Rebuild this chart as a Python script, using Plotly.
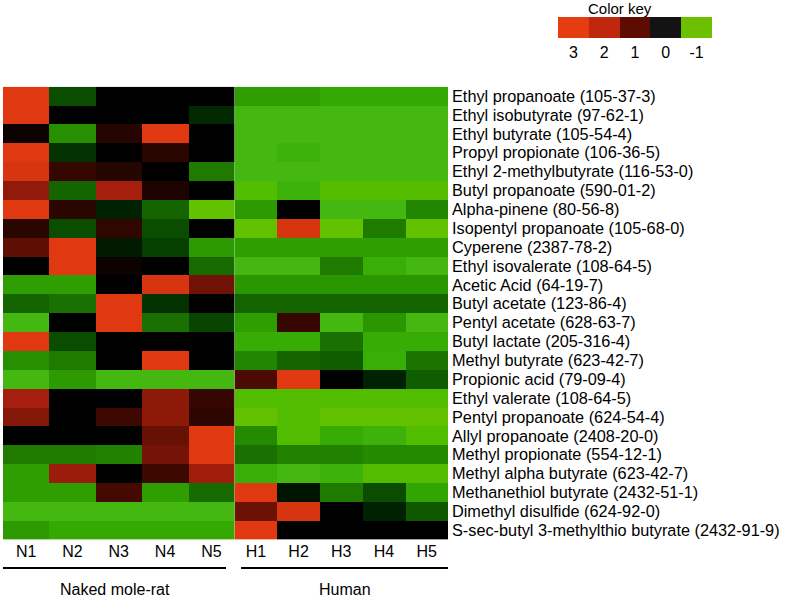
import plotly.graph_objects as go

compounds = [
    "Ethyl propanoate (105-37-3)",
    "Ethyl isobutyrate (97-62-1)",
    "Ethyl butyrate (105-54-4)",
    "Propyl propionate (106-36-5)",
    "Ethyl 2-methylbutyrate (116-53-0)",
    "Butyl propanoate (590-01-2)",
    "Alpha-pinene (80-56-8)",
    "Isopentyl propanoate (105-68-0)",
    "Cyperene (2387-78-2)",
    "Ethyl isovalerate (108-64-5)",
    "Acetic Acid (64-19-7)",
    "Butyl acetate (123-86-4)",
    "Pentyl acetate (628-63-7)",
    "Butyl lactate (205-316-4)",
    "Methyl butyrate (623-42-7)",
    "Propionic acid (79-09-4)",
    "Ethyl valerate (108-64-5)",
    "Pentyl propanoate (624-54-4)",
    "Allyl propanoate (2408-20-0)",
    "Methyl propionate (554-12-1)",
    "Methyl alpha butyrate (623-42-7)",
    "Methanethiol butyrate (2432-51-1)",
    "Dimethyl disulfide (624-92-0)",
    "S-sec-butyl 3-methylthio butyrate (2432-91-9)",
]

naked_samples = ["N1", "N2", "N3", "N4", "N5"]
human_samples = ["H1", "H2", "H3", "H4", "H5"]

# estimated scaled abundance per compound, naked mole-rat N1..N5
naked_values = [
    [3.0, -0.25, 0.0, 0.0, 0.0],
    [3.0, 0.0, 0.0, 0.0, -0.12],
    [0.1, -0.55, 0.3, 3.0, 0.0],
    [3.0, -0.15, 0.0, 0.35, 0.0],
    [2.8, 0.45, 0.3, 0.0, -0.45],
    [1.5, -0.35, 1.8, 0.25, 0.0],
    [3.0, 0.35, -0.1, -0.35, -1.0],
    [0.35, -0.25, 0.4, -0.25, 0.0],
    [0.95, 3.0, -0.08, -0.2, -0.6],
    [0.0, 3.0, 0.1, 0.0, -0.38],
    [-0.62, -0.62, 0.0, 2.8, 1.15],
    [-0.35, -0.4, 3.0, -0.15, 0.0],
    [-0.8, 0.0, 3.0, -0.4, -0.22],
    [3.0, -0.25, 0.0, 0.0, 0.0],
    [-0.55, -0.45, 0.0, 3.0, 0.0],
    [-0.8, -0.6, -0.8, -0.8, -0.8],
    [1.8, 0.0, 0.0, 1.45, 0.45],
    [1.35, 0.0, 0.5, 1.45, 0.38],
    [0.0, 0.0, 0.0, 1.05, 3.0],
    [-0.45, -0.45, -0.48, 1.2, 3.0],
    [-0.62, 1.65, 0.0, 0.5, 1.7],
    [-0.62, -0.62, 0.6, -0.62, -0.38],
    [-0.8, -0.8, -0.8, -0.8, -0.8],
    [-0.6, -0.68, -0.68, -0.68, -0.68],
]

# human H1..H5
human_values = [
    [-0.62, -0.62, -0.68, -0.68, -0.68],
    [-0.8, -0.8, -0.8, -0.8, -0.8],
    [-0.8, -0.8, -0.8, -0.8, -0.8],
    [-0.8, -0.75, -0.8, -0.8, -0.8],
    [-0.8, -0.8, -0.8, -0.8, -0.8],
    [-0.88, -0.75, -0.9, -0.9, -0.9],
    [-0.6, 0.0, -0.8, -0.8, -0.5],
    [-1.0, 2.8, -1.0, -0.45, -1.0],
    [-0.62, -0.62, -0.62, -0.62, -0.62],
    [-0.8, -0.8, -0.45, -0.72, -0.8],
    [-0.58, -0.58, -0.58, -0.58, -0.58],
    [-0.35, -0.35, -0.35, -0.35, -0.35],
    [-0.62, 0.45, -0.8, -0.58, -0.8],
    [-0.7, -0.7, -0.4, -0.7, -0.7],
    [-0.5, -0.35, -0.32, -0.72, -0.42],
    [0.7, 3.0, 0.0, -0.1, -0.32],
    [-0.88, -0.88, -0.88, -0.88, -0.88],
    [-1.0, -0.88, -1.0, -1.0, -1.0],
    [-0.52, -0.88, -0.7, -0.75, -0.88],
    [-0.4, -0.48, -0.48, -0.52, -0.52],
    [-0.72, -0.8, -0.75, -0.88, -0.88],
    [3.0, -0.06, -0.45, -0.25, -0.66],
    [1.1, 2.8, 0.0, -0.1, -0.3],
    [3.0, 0.0, 0.0, 0.0, 0.0],
]

key_labels = ["3", "2", "1", "0", "-1"]
key_colors = ["#e63c12", "#c0280e", "#5e0c02", "#131313", "#6cc000"]

groups = ["Naked mole-rat", "Human"]

W, H = 787, 597
font = "Arial, Liberation Sans, sans-serif"

cmap = [
    [0.0, "#62c200"], [0.03, "#52bc00"], [0.05, "#44b810"], [0.075, "#36ac04"],
    [0.1, "#2c9a00"], [0.125, "#228600"], [0.15, "#1a7000"], [0.175, "#0e5800"],
    [0.2, "#064000"], [0.225, "#002200"], [0.25, "#000000"], [0.375, "#3c0800"],
    [0.5, "#621004"], [0.625, "#921a0a"], [0.75, "#b42210"], [1.0, "#e03810"],
]

fig = go.Figure()
fig.add_trace(go.Heatmap(
    z=naked_values, x=naked_samples, y=compounds, zmin=-1, zmax=3,
    colorscale=cmap, showscale=False, xaxis="x", yaxis="y",
))
fig.add_trace(go.Heatmap(
    z=human_values, x=human_samples, y=compounds, zmin=-1, zmax=3,
    colorscale=cmap, showscale=False, xaxis="x3", yaxis="y",
))

# color key
n = len(key_labels)
key_scale = []
for i, c in enumerate(key_colors):
    key_scale += [[i / n, c], [(i + 1) / n, c]]
fig.add_trace(go.Heatmap(
    z=[list(range(n))], x=key_labels, zmin=0, zmax=n,
    colorscale=key_scale, showscale=False, xaxis="x2", yaxis="y2", hoverinfo="skip",
))

xcommon = dict(showgrid=False, zeroline=False, ticks="", tickfont=dict(size=16),
               ticklabelstandoff=0, automargin=False, anchor="y")

fig.update_layout(
    width=W, height=H,
    margin=dict(l=0, r=0, t=0, b=0),
    paper_bgcolor="white", plot_bgcolor="white",
    font=dict(family=font, size=16, color="black"),
    xaxis=dict(domain=[3 / W, 234.5 / W], tickmode="array", tickvals=naked_samples,
               ticktext=naked_samples, **xcommon),
    xaxis3=dict(domain=[234.5 / W, 448 / W], tickmode="array", tickvals=human_samples,
                ticktext=human_samples, **xcommon),
    yaxis=dict(domain=[1 - 539.6 / H, 1 - 86.7 / H], side="right", anchor="x3",
               autorange="reversed", showgrid=False, zeroline=False, ticks="",
               tickmode="array", tickvals=compounds, ticktext=compounds,
               tickfont=dict(size=16.3), ticklabelstandoff=3, automargin=False),
    xaxis2=dict(domain=[558 / W, 712 / W], anchor="y2", showgrid=False, zeroline=False,
                ticks="", tickmode="array", tickvals=key_labels, ticktext=key_labels,
                tickfont=dict(size=16), ticklabelstandoff=3, automargin=False),
    yaxis2=dict(domain=[1 - 38 / H, 1 - 17 / H], anchor="x2", showgrid=False,
                zeroline=False, showticklabels=False, automargin=False),
)

fig.add_annotation(text="Color key", x=620 / W, y=1 - 8 / H, xref="paper", yref="paper",
                   showarrow=False, font=dict(size=15), xanchor="center", yanchor="middle")

# group brackets
spans = [(3, 226), (241, 448)]
for (x0, x1), g in zip(spans, groups):
    fig.add_shape(type="line", xref="paper", yref="paper",
                  x0=x0 / W, x1=x1 / W, y0=1 - 568 / H, y1=1 - 568 / H,
                  line=dict(color="black", width=2))
    fig.add_annotation(text=g, x=(x0 + x1) / 2 / W, y=1 - 589 / H, xref="paper", yref="paper",
                       showarrow=False, font=dict(size=16), xanchor="center", yanchor="middle")

fig.write_html("out.html", config={"displayModeBar": False},
               post_script="document.body.style.margin='0';")
